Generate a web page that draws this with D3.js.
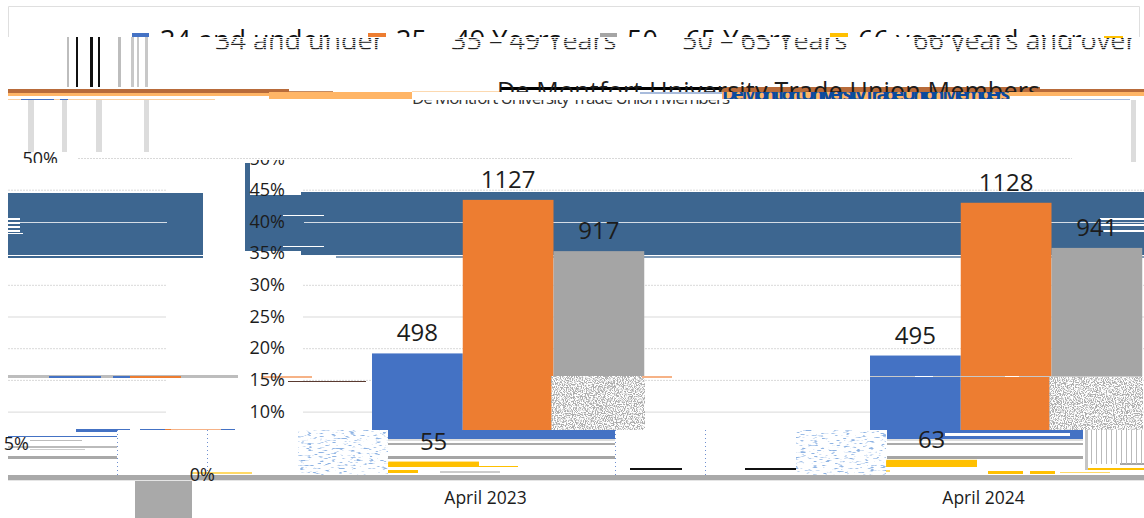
<!DOCTYPE html>
<html><head><meta charset="utf-8">
<script src="https://d3js.org/d3.v7.min.js"></script>
<style>html,body{margin:0;background:#fff;overflow:hidden}svg{display:block}text{font-family:"Open Sans",sans-serif;fill:#1c1c1c}</style>
</head><body><div id="c"></div>
<script>
// ---- chart data ----
const categories = ["April 2023", "April 2024"];
const seriesNames = ["34 and under", "35 – 49 Years", "50 – 65 Years", "66 years and over"];
const seriesColors = ["#4472c4", "#ed7d31", "#a5a5a5", "#ffc000"];
const counts2023 = [498, 1127, 917, 55];
const counts2024 = [495, 1128, 941, 63];
const yTicks = [0, 5, 10, 15, 20, 25, 30, 35, 40, 45, 50];
const titleLine = "De Montfort University Trade Union Members";

// ---- the reference picture is torn into displaced strips; these are that damage, not data ----
const W = 1144, H = 518;
const tornBlocks = [
  [132,33,17,4,"#4472c4"],[368,33,18,4,"#ed7d31"],[600,33,17,4,"#a5a5a5"],[830,33,18,4,"#ffc000"],[1104,36,19,2,"#ffc000"],
  [67,37,2,50,"#bdbdbd"],[76,37,2,50,"#111"],[90,37,3,50,"#111"],[98,37,2,50,"#111"],[118,37,3,50,"#bdbdbd"],[131,37,3,50,"#c8c8c8"],[137,37,2,50,"#c8c8c8"],[145,37,3,50,"#c8c8c8"],
  [8,89,281,4,"#b86b3a"],[289,91,44,1,"#c58a60"],[8,93,261,3,"#ffb566"],[269,92,143,7,"#ffb566"],[412,91,90,1,"#fcd9b0"],
  [720,87,320,5,"#b86b3a"],[1040,89,104,3,"#b86b3a"],[722,92,288,7,"#ffb566"],[1010,92,134,4,"#ffb566"],[500,87,222,3,"#000"],[640,92,82,2,"#a9bcdc"],
  [8,99,207,1,"#fcd0a0"],[21,99,33,1,"#4472c4"],[60,99,8,1,"#4472c4"],[1060,99,70,1,"#a9bcdc"],
  [28,100,6,52,"#dcdcdc"],[62,100,5,52,"#dcdcdc"],[96,100,6,52,"#dcdcdc"],[144,100,5,52,"#dcdcdc"],[1131,100,5,62,"#dcdcdc"]
];
const bandBlocks = [
  [8,193,195,62,"#3d6690"],[8,256,195,2,"#3d6690"],[245,163,5,88,"#3d6690"],[250,195,51,56,"#3d6690"],[301,192,843,63,"#3d6690"],[336,256,808,2,"#7f9ab6"],
  [8,218,12,2,"#fff"],[8,222,12,2,"#fff"],[8,226,12,2,"#fff"],[8,230,12,2,"#fff"],[8,233,15,1,"#fff"],
  [20,222,147,1,"#d5dde6"],[283,215,41,1,"#fff"],[283,246,41,1,"#fff"],[304,222,840,1,"#d5dde6"],[1100,218,44,2,"#fff"],[1100,224,44,2,"#fff"],[1100,230,44,2,"#fff"]
];
const lowerBlocks = [
  [8,375,230,3,"#bdbdbd"],[49,376,52,2,"#4472c4"],[113,376,17,2,"#4472c4"],[130,376,51,2,"#ed7d31"],[262,376,50,2,"#f6b286"],[288,381,78,1,"#5a3a30"],[642,376,30,2,"#f6b286"],
  [870,376,271,1,"#c9c9c9"],[915,376,18,1,"#fff"],[1005,376,14,1,"#fff"],
  [8,429,110,2,"#fff"],[76,429,54,3,"#4472c4"],[140,429,25,2,"#4472c4"],[165,429,6,2,"#ed7d31"],[171,429,50,2,"#f6b286"],[221,429,14,2,"#4472c4"],
  [8,436,109,1,"#4472c4"],[30,440,52,1,"#bbb"],[8,446,109,2,"#bbb"],[30,449,55,1,"#ccc"],[8,456,109,3,"#a9a9a9"],
  [117,430,181,45,"#fff"],[615,430,181,45,"#fff"],
  [388,430,227,9,"#4472c4"],[388,439,227,2,"#ddd"],[388,443,227,2,"#aaa"],[388,456,227,3,"#a5a5a5"],
  [887,430,196,9,"#4472c4"],[887,439,196,2,"#ddd"],[887,443,196,2,"#aaa"],[887,456,196,3,"#a5a5a5"],[945,433,125,3,"#fff"],
  [1083,430,61,40,"#fff"],[1120,463,24,2,"#a5a5a5"],
  [350,470,25,3,"#ffc000"],[378,470,40,3,"#ffc000"],[478,466,40,1,"#ffc000"],[440,471,60,2,"#ccc"],
  [988,471,35,3,"#ffc000"],[1030,471,25,3,"#ffc000"],[1085,468,59,2,"#ffc000"],[1060,472,50,1,"#ffd966"],
  [630,468,52,2,"#111"],[745,468,60,2,"#111"],[820,470,70,2,"#ffd966"],[192,472,60,2,"#ffd966"],
  [8,475,1136,5,"#a9a9a9"],[8,480,1136,1,"#e5e5e5"],[135,481,57,37,"#a9a9a9"]
];
const dottedRules = [[117,430,45],[207,430,45],[615,430,45],[705,430,45]];

// ---- scales ----
const yS = d3.scaleLinear().domain([0, 50]).range([475, 158]);
const xGroup = d3.scaleBand().domain(categories).range([372, 1233]).paddingInner(135 / 498).paddingOuter(0);
const xSeries = d3.scaleBand().domain(seriesNames).range([0, xGroup.bandwidth()]);
const rows = [counts2023, counts2024].map((vals, i) => {
  const total = d3.sum(vals);
  return vals.map((v, s) => ({cat: categories[i], name: seriesNames[s], s, v, pct: v / total * 100}));
}).flat();
const AXIS_SHIFT = -68, LOWER_SHIFT = -256;

const svg = d3.select("#c").append("svg").attr("width", W).attr("height", H);
const defs = svg.append("defs");
const clip = (id, x, y, w, h) => defs.append("clipPath").attr("id", id).append("rect").attr("x", x).attr("y", y).attr("width", w).attr("height", h);
clip("legUp", 0, 20, W, 17); clip("legLow", 0, 38, W, 14);
clip("titleUp", 0, 70, W, 22); clip("titleBlue", 0, 92, W, 7); clip("titleLow", 0, 100, W, 8);
clip("barMid", 0, 0, W, 430); clip("barGray", 0, 0, W, 376); clip("barLow", 0, 0, W, 467);
clip("fifty", 0, 160, W, 6); clip("fiftyL", 0, 150, W, 13);
const noise = (id, fx, fy, c, seed, off) => {
  const f = defs.append("filter").attr("id", id).attr("x", 0).attr("y", 0).attr("width", 1).attr("height", 1);
  f.append("feTurbulence").attr("type", "fractalNoise").attr("baseFrequency", `${fx} ${fy}`).attr("numOctaves", 2).attr("seed", seed);
  f.append("feColorMatrix").attr("values", `0 0 0 0 ${c[0]} 0 0 0 0 ${c[1]} 0 0 0 0 ${c[2]} 6 0 0 0 ${off}`);
};
noise("nGray", 0.9, 0.9, [0.42, 0.42, 0.42], 3, -2.6);
noise("nBlue", 0.16, 0.6, [0.27, 0.45, 0.77], 8, -3.5);

svg.append("path").attr("d", `M8.5 37V6.5H1139.5V37`).attr("fill", "none").attr("stroke", "#dfdfdf").attr("stroke-width", 1);

const gridSegs = [[8, 166], [303, 1144]];
svg.append("g").selectAll("g").data(yTicks.filter(t => t >= 10)).join("g").each(function (t) {
  d3.select(this).selectAll("line").data(t === 50 ? [[78, 1072]] : gridSegs).join("line")
    .attr("x1", d => d[0]).attr("x2", d => d[1]).attr("y1", yS(t) + .5).attr("y2", yS(t) + .5)
    .attr("stroke", "#d9d9d9").attr("stroke-dasharray", t === 25 || t === 10 ? null : "2 1");
});

const blocks = (g, data) => g.selectAll("rect").data(data).join("rect")
  .attr("x", d => d[0]).attr("y", d => d[1]).attr("width", d => d[2]).attr("height", d => d[3]).attr("fill", d => d[4]);
blocks(svg.append("g"), bandBlocks);
blocks(svg.append("g"), tornBlocks);

const legendX = [160, 396, 627, 858];
const legendText = (clipId, dx, color) => svg.append("g").attr("clip-path", `url(#${clipId})`)
  .selectAll("text").data(seriesNames).join("text")
  .attr("x", (d, i) => legendX[i] + dx).attr("y", 50).attr("font-size", 27).style("fill", color).text(d => d);
legendText("legUp", 0, "#111");
legendText("legLow", 55, "#222");
const stripes = svg.append("g");
d3.range(39, 52, 2).forEach(y => stripes.append("rect").attr("x", 200).attr("y", y).attr("width", 944).attr("height", 1).attr("fill", "#fff").attr("opacity", .8));

svg.append("text").attr("clip-path", "url(#titleUp)").attr("x", 497).attr("y", 100).attr("font-size", 25).attr("textLength", 543).text(titleLine);
svg.append("text").attr("clip-path", "url(#titleBlue)").attr("x", 722).attr("y", 101).attr("font-size", 19).attr("font-weight", 700).attr("textLength", 288).style("fill", "#0b4a9e").text(titleLine);
svg.append("text").attr("clip-path", "url(#titleLow)").attr("x", 412).attr("y", 104).attr("font-size", 17).attr("textLength", 318).style("fill", "#333").text(titleLine);

const barX = d => xGroup(d.cat) + xSeries(d.name) + (d.s === 3 ? LOWER_SHIFT : 0);
const barClip = ["barMid", "barMid", "barGray", "barLow"];
svg.append("g").selectAll("g").data(rows).join("g").attr("clip-path", d => `url(#${barClip[d.s]})`)
  .append("rect").attr("x", barX).attr("y", d => yS(d.pct)).attr("width", xSeries.bandwidth())
  .attr("height", d => yS(0) - yS(d.pct)).attr("fill", d => seriesColors[d.s]);

const speck = categories.map(c => xGroup(c) + xSeries(seriesNames[2]) - 2);
speck.forEach(x => {
  const w = Math.min(xSeries.bandwidth() + 2, W - x);
  svg.append("rect").attr("x", x).attr("y", 376).attr("width", w).attr("height", 54).attr("fill", "#fff");
  svg.append("rect").attr("x", x).attr("y", 376).attr("width", w).attr("height", 54).attr("fill", "#000").attr("filter", "url(#nGray)");
});
blocks(svg.append("g"), lowerBlocks);
categories.forEach(c => {
  const x = xGroup(c) + xSeries(seriesNames[0]) + LOWER_SHIFT + 182;
  svg.append("rect").attr("x", x).attr("y", 430).attr("width", 90).attr("height", 45).attr("fill", "#fff");
  svg.append("rect").attr("x", x).attr("y", 430).attr("width", 90).attr("height", 45).attr("fill", "#000").attr("filter", "url(#nBlue)");
});
svg.append("g").selectAll("line").data(dottedRules).join("line")
  .attr("x1", d => d[0] + .5).attr("x2", d => d[0] + .5).attr("y1", d => d[1]).attr("y2", d => d[1] + d[2])
  .attr("stroke", "#6f8fd0").attr("stroke-dasharray", "1 3");
svg.append("g").selectAll("rect").data(d3.range(1086, 1144, 5)).join("rect")
  .attr("x", d => d).attr("y", 430).attr("width", 1).attr("height", 34).attr("fill", "#bbb");
svg.append("rect").attr("x", 1085).attr("y", 430).attr("width", 3).attr("height", 40).attr("fill", "#c5c5c5");

svg.append("g").selectAll("rect").data(rows.filter(d => d.s === 3)).join("rect")
  .attr("clip-path", "url(#barLow)").attr("x", barX).attr("y", d => yS(d.pct) + 1).attr("width", xSeries.bandwidth())
  .attr("height", d => yS(0) - yS(d.pct)).attr("fill", seriesColors[3]);
svg.append("rect").attr("x", 0).attr("y", 475).attr("width", W).attr("height", 5).attr("fill", "#a9a9a9");
svg.append("rect").attr("x", 0).attr("y", 475).attr("width", 8).attr("height", 5).attr("fill", "#fff");

svg.append("g").selectAll("text").data(rows).join("text")
  .attr("x", d => barX(d) + xSeries.bandwidth() / 2).attr("y", d => yS(d.pct) - 12)
  .attr("text-anchor", "middle").attr("font-size", 24).text(d => d.v);

const yAxis = svg.append("g").attr("transform", "translate(285,0)")
  .call(d3.axisLeft(yS).tickValues(yTicks).tickSize(0).tickPadding(0).tickFormat(d => d + "%"));
yAxis.select(".domain").remove();
yAxis.selectAll("text").attr("font-size", 18).style("font-family", '"Open Sans",sans-serif').style("fill", "#1c1c1c");
const tickShift = {0: -70, 5: LOWER_SHIFT, 50: 0};
yAxis.selectAll(".tick").attr("transform", d => `translate(${tickShift[d] || 0},${yS(d) + .5})`);
yAxis.selectAll(".tick").filter(d => d === 50).remove();
svg.append("text").attr("clip-path", "url(#fifty)").attr("x", 285).attr("y", 165).attr("text-anchor", "end").attr("font-size", 18).text("50%");
svg.append("text").attr("clip-path", "url(#fiftyL)").attr("x", 58).attr("y", 165).attr("text-anchor", "end").attr("font-size", 18).text("50%");

const xAxis = svg.append("g").attr("transform", `translate(${AXIS_SHIFT},475)`)
  .call(d3.axisBottom(xGroup).tickSize(0).tickPadding(17));
xAxis.select(".domain").remove();
xAxis.selectAll("text").attr("font-size", 17.5).style("font-family", '"Open Sans",sans-serif').style("fill", "#1c1c1c");
</script></body></html>
